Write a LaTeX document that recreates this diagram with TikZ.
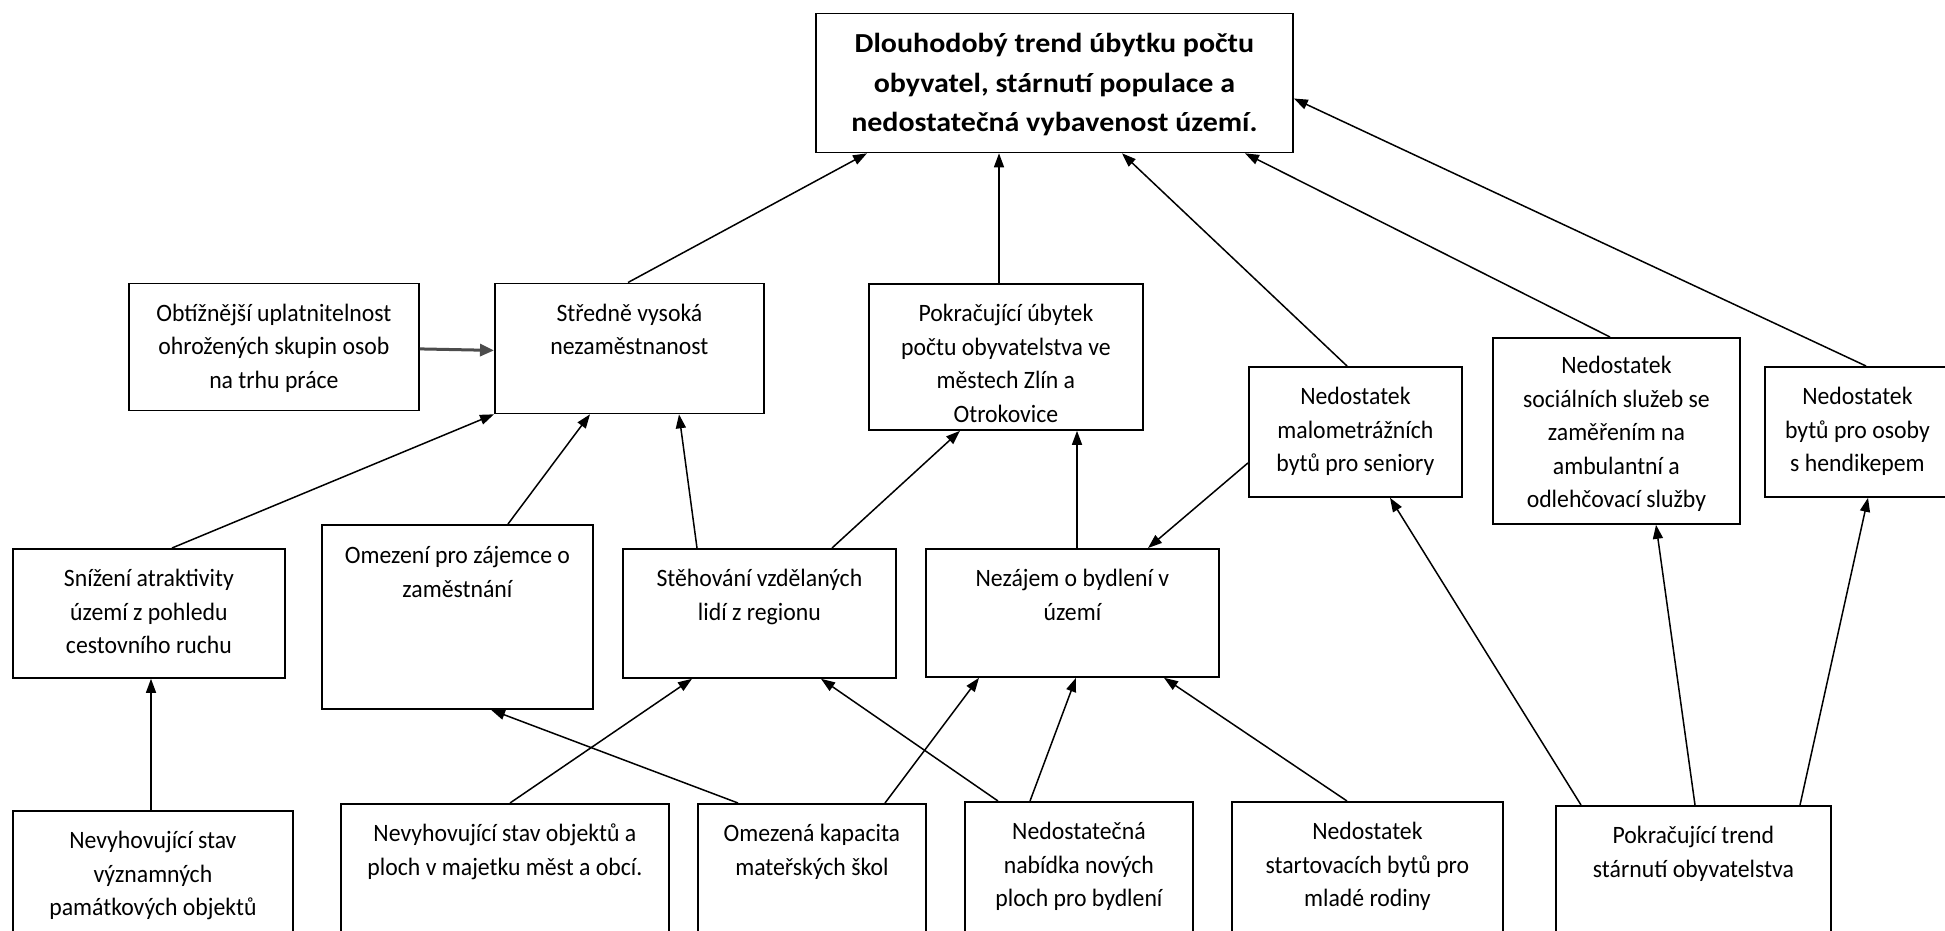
\documentclass[tikz,border=0pt]{standalone}
\usepackage{fontspec}
\setmainfont{Carlito}
\newfontfamily\boxfont[FakeStretch=0.95]{Carlito}
\newfontfamily\headfont[FakeStretch=1.09]{Carlito}
\usetikzlibrary{arrows.meta}

% text block at the top of a fixed-size box: width, height, first-baseline strut, text
\newcommand\boxtext[4]{\parbox[t][#2][t]{#1}{\centering\rule{0pt}{#3}#4}}

\tikzset{
  box/.style={draw, line width=1.8pt, inner sep=0pt, anchor=north west,
              font=\boxfont\fontsize{25}{33.5}\selectfont},
  topbox/.style={box, font=\headfont\fontsize{27.5}{39.2}\selectfont\bfseries},
  link/.style={line width=1.5pt, -{Triangle[length=14pt,width=10pt]}},
  thicklink/.style={line width=3pt, black!70, -{Triangle[length=14pt,width=12pt]}}
}

\begin{document}
\begin{tikzpicture}[x=1pt, y=-1pt]
\useasboundingbox (0,0) rectangle (1945,930);
\clip (0,0) rectangle (1945,930);

% top problem
\node[topbox] (T) at (815,12.5) {\boxtext{477pt}{139pt}{39.5pt}{Dlouhodobý trend úbytku počtu\\obyvatel, stárnutí populace a\\nedostatečná vybavenost území.}};

% second level
\node[box] (O1) at (128,282.5) {\boxtext{290pt}{127pt}{38pt}{Obtížnější uplatnitelnost\\ohrožených skupin osob\\na trhu práce}};
\node[box] (S) at (494,282.5) {\boxtext{269pt}{130pt}{38pt}{Středně vysoká\\nezaměstnanost}};
\node[box] (P) at (868,283) {\boxtext{274pt}{146pt}{38pt}{Pokračující úbytek\\počtu obyvatelstva ve\\městech Zlín a\\Otrokovice}};
\node[box] (M) at (1248,366) {\boxtext{213pt}{130pt}{38pt}{Nedostatek\\malometrážních\\bytů pro seniory}};
\node[box] (SS) at (1492,337) {\boxtext{247pt}{186pt}{36pt}{Nedostatek\\sociálních služeb se\\zaměřením na\\ambulantní a\\odlehčovací služby}};
\node[box] (H) at (1764,366) {\boxtext{185pt}{130pt}{38pt}{Nedostatek\\bytů pro osoby\\s hendikepem}};

% third level
\node[box] (SN) at (12,548) {\boxtext{272pt}{129pt}{38pt}{Snížení atraktivity\\území z pohledu\\cestovního ruchu}};
\node[box] (OZ) at (321,524) {\boxtext{271pt}{184pt}{39pt}{Omezení pro zájemce o\\zaměstnání}};
\node[box] (ST) at (622,548) {\boxtext{273pt}{129pt}{38pt}{Stěhování vzdělaných\\lidí z regionu}};
\node[box] (N) at (925,548) {\boxtext{293pt}{128pt}{38pt}{Nezájem o bydlení v\\území}};

% bottom causes
\node[box] (NV) at (12,810) {\boxtext{280pt}{160pt}{38pt}{Nevyhovující stav\\významných\\památkových objektů}};
\node[box] (NO) at (340,803) {\boxtext{328pt}{160pt}{38pt}{Nevyhovující stav objektů a\\ploch v majetku měst a obcí.}};
\node[box] (OK) at (697,803) {\boxtext{228pt}{160pt}{38pt}{Omezená kapacita\\mateřských škol}};
\node[box] (NN) at (964,801) {\boxtext{228pt}{160pt}{38pt}{Nedostatečná\\nabídka nových\\ploch pro bydlení}};
\node[box] (NS) at (1231,801) {\boxtext{271pt}{160pt}{38pt}{Nedostatek\\startovacích bytů pro\\mladé rodiny}};
\node[box] (PT) at (1555,805) {\boxtext{275pt}{160pt}{38pt}{Pokračující trend\\stárnutí obyvatelstva}};

% links into the top problem
\draw[link] ([xshift=134pt]S.north west) -- ([xshift=52pt]T.south west);
\draw[link] ([xshift=131pt]P.north west) -- ([xshift=184pt]T.south west);
\draw[link] ([xshift=99pt]M.north west) -- ([xshift=307pt]T.south west);
\draw[link] ([xshift=118pt]SS.north west) -- ([xshift=430pt]T.south west);
\draw[link] ([xshift=102pt]H.north west) -- ([yshift=-86pt]T.north east);

% links into the second level
\draw[thicklink] ([yshift=-2pt]O1.east) -- ([yshift=-2pt]S.west);
\draw[link] ([xshift=160pt]SN.north west) -- (S.south west);
\draw[link] ([xshift=187pt]OZ.north west) -- ([xshift=96pt]S.south west);
\draw[link] ([xshift=75pt]ST.north west) -- ([xshift=185pt]S.south west);
\draw[link] ([xshift=210pt]ST.north west) -- ([xshift=92pt]P.south west);
\draw[link] ([xshift=152pt]N.north west) -- ([xshift=209pt]P.south west);
\draw[link] ([yshift=-31pt]M.west) -- ([xshift=223pt]N.north west);

% links from the bottom causes
\draw[link] ([xshift=139pt]NV.north west) -- ([xshift=139pt]SN.south west);
\draw[link] ([xshift=170pt]NO.north west) -- ([xshift=70pt]ST.south west);
\draw[link] ([xshift=41pt]OK.north west) -- ([xshift=170pt]OZ.south west);
\draw[link] ([xshift=188pt]OK.north west) -- ([xshift=54pt]N.south west);
\draw[link] ([xshift=34pt]NN.north west) -- ([xshift=199pt]ST.south west);
\draw[link] ([xshift=66pt]NN.north west) -- ([xshift=151pt]N.south west);
\draw[link] ([xshift=116pt]NS.north west) -- ([xshift=239pt]N.south west);
\draw[link] ([xshift=26pt]PT.north west) -- ([xshift=142pt]M.south west);
\draw[link] ([xshift=140pt]PT.north west) -- ([xshift=164pt]SS.south west);
\draw[link] ([xshift=245pt]PT.north west) -- ([xshift=104pt]H.south west);
\end{tikzpicture}
\end{document}
